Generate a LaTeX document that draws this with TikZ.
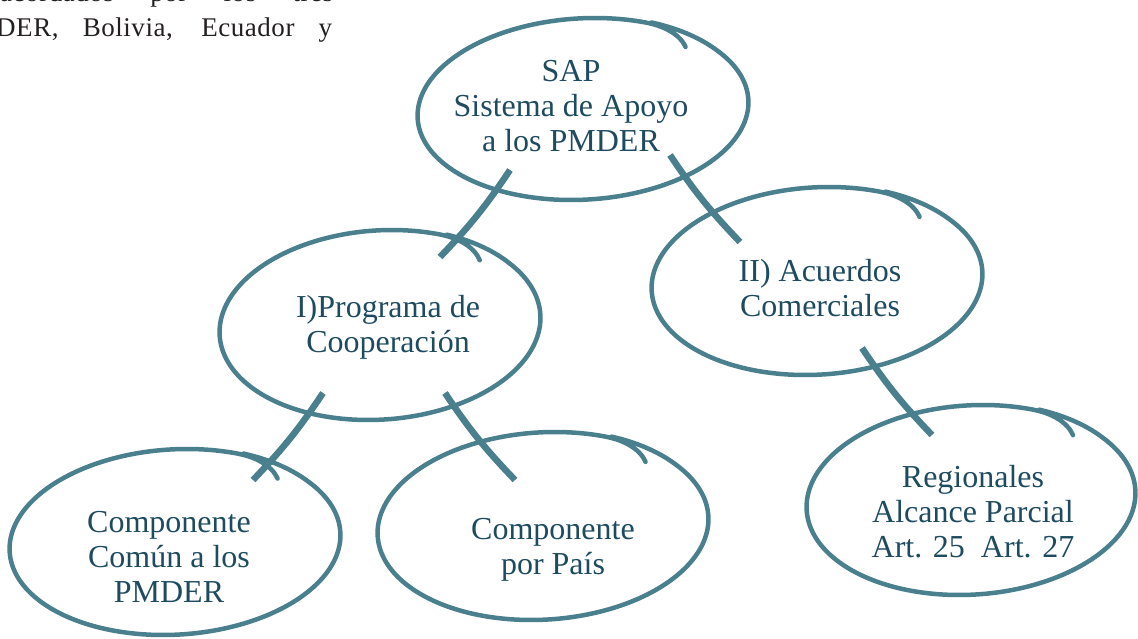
\documentclass[tikz,border=0pt]{standalone}
\usepackage{fontspec}
\setmainfont{Liberation Serif}
\newfontfamily\bodyfont[LetterSpace=2]{Liberation Serif}
\usepackage{tikz}
\usetikzlibrary{positioning}
\definecolor{inkline}{HTML}{4A7F8E}
\definecolor{inktext}{HTML}{1E4B60}
\definecolor{bodytext}{HTML}{231F20}

% hand drawn loop round a node: name, dx, dy, rx, ry
\newcommand{\handloop}[5]{%
	\draw[sketch,shift={(#1.center)}]
		plot[smooth,domain=430:50,samples=120,variable=\t]
		({#2+(1+0.012*max(0,(\t-400)/30)-0.11*pow(max(0,1-(\t-50)/22),2))*(#4*cos(\t)+12*sin(\t))},
		 {#3+(1+0.012*max(0,(\t-400)/30)-0.11*pow(max(0,1-(\t-50)/22),2))*#5*sin(\t)});
}

\begin{document}
\begin{tikzpicture}[x=1pt,y=1pt,on grid,
		idea/.style={align=center,text=inktext,font=\fontsize{32}{35}\selectfont},
		sketch/.style={draw=inkline,line width=4.5pt,line cap=round,line join=round},
		link/.style={draw=inkline,line width=6.5pt},
		para/.style={text=bodytext,font=\bodyfont\fontsize{27}{35}\selectfont,inner sep=0pt}]
	\useasboundingbox (0,0) rectangle (1138,638);
	\clip (0,0) rectangle (1138,638);

	\node[para,anchor=base west] (line1) at (0,636) {\makebox[333pt][s]{acordados por los tres}};
	\node[para,anchor=base west] (line2) at (-4,601) {\makebox[336pt][s]{DER, Bolivia, Ecuador y}};

	\node[idea] (sap) at (571,532) {SAP\\Sistema de Apoyo\\a los PMDER};
	\node[idea] (prog) [below left=221pt and 183pt of sap] {I)Programa de\\Cooperación};
	\node[idea] (acu) [below right=182pt and 249pt of sap] {II) Acuerdos\\Comerciales};
	\node[idea] (reg) [below right=224pt and 153pt of acu] {Regionales\\Alcance Parcial\\Art. 25~~Art. 27};
	\node[idea] (comun) [below left=230pt and 219pt of prog] {Componente\\Común a los\\PMDER};
	\node[idea] (pais) [below right=223pt and 165pt of prog] {Componente\\por País};

	\handloop{sap}{12}{-3}{165}{91}
	\handloop{prog}{-8}{2}{160}{95}
	\handloop{acu}{-3}{7}{165}{94}
	\handloop{reg}{-2}{12}{164}{95}
	\handloop{comun}{6}{15}{165}{93}
	\handloop{pais}{-10}{24}{165}{94}

	\draw[link] ([shift={(-61,-64)}]sap.center) to[bend left=5] ([shift={(52,70)}]prog.center);
	\draw[link] ([shift={(99,-49)}]sap.center) to[bend right=5] ([shift={(-80,46)}]acu.center);
	\draw[link] ([shift={(42,-60)}]acu.center) to[bend right=5] ([shift={(-41,77)}]reg.center);
	\draw[link] ([shift={(-65,-66)}]prog.center) to[bend left=5] ([shift={(84,77)}]comun.center);
	\draw[link] ([shift={(57,-66)}]prog.center) to[bend right=5] ([shift={(-38,70)}]pais.center);
\end{tikzpicture}
\end{document}
